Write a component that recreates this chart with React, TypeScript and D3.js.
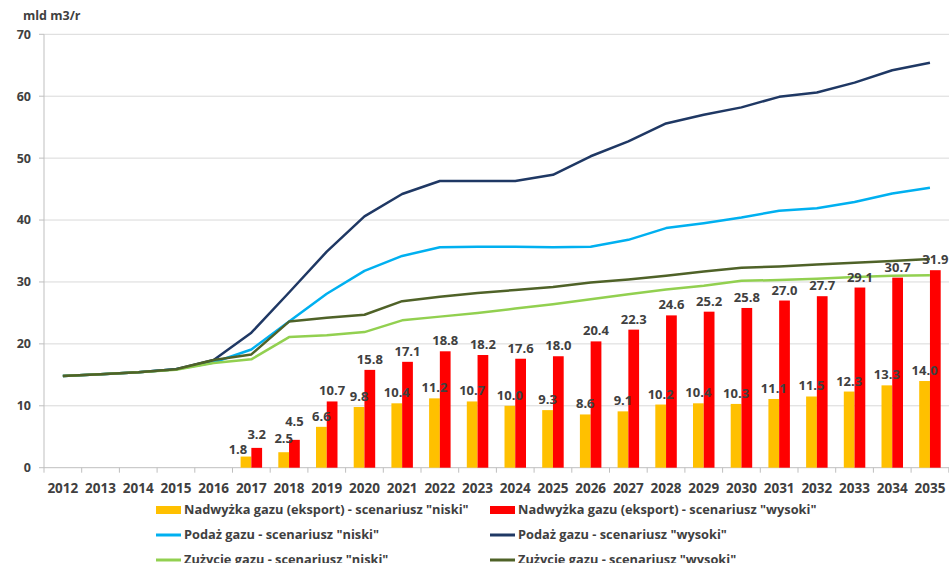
import React from "react";
import * as d3 from "d3";

const years = [2012, 2013, 2014, 2015, 2016, 2017, 2018, 2019, 2020, 2021, 2022, 2023, 2024, 2025, 2026, 2027, 2028, 2029, 2030, 2031, 2032, 2033, 2034, 2035];

// Nadwyżka gazu (eksport)
const nadwyzkaNiski: (number | null)[] = [null, null, null, null, null, 1.8, 2.5, 6.6, 9.8, 10.4, 11.2, 10.7, 10.0, 9.3, 8.6, 9.1, 10.2, 10.4, 10.3, 11.1, 11.5, 12.3, 13.3, 14.0];
const nadwyzkaWysoki: (number | null)[] = [null, null, null, null, null, 3.2, 4.5, 10.7, 15.8, 17.1, 18.8, 18.2, 17.6, 18.0, 20.4, 22.3, 24.6, 25.2, 25.8, 27.0, 27.7, 29.1, 30.7, 31.9];

// Podaż gazu
const podazNiski = [14.8, 15.1, 15.4, 15.9, 17.0, 19.1, 23.6, 28.1, 31.8, 34.2, 35.6, 35.7, 35.7, 35.6, 35.7, 36.8, 38.7, 39.5, 40.4, 41.5, 41.9, 42.9, 44.3, 45.2];
const podazWysoki = [14.8, 15.1, 15.4, 15.9, 17.4, 21.8, 28.3, 34.9, 40.6, 44.2, 46.3, 46.3, 46.3, 47.3, 50.3, 52.7, 55.6, 57.0, 58.2, 59.9, 60.6, 62.2, 64.2, 65.4];

// Zużycie gazu
const zuzycieNiski = [14.8, 15.1, 15.4, 15.8, 16.9, 17.5, 21.1, 21.4, 21.9, 23.8, 24.4, 25.0, 25.7, 26.4, 27.2, 28.0, 28.8, 29.4, 30.2, 30.3, 30.5, 30.8, 31.0, 31.1];
const zuzycieWysoki = [14.8, 15.1, 15.4, 15.9, 17.4, 18.3, 23.6, 24.2, 24.7, 26.9, 27.6, 28.2, 28.7, 29.2, 29.9, 30.4, 31.0, 31.7, 32.3, 32.5, 32.8, 33.1, 33.4, 33.7];

const yTicks = [0, 10, 20, 30, 40, 50, 60, 70];
const unitLabel = "mld m3/r";

const barSeries = [
  { name: 'Nadwyżka gazu (eksport) - scenariusz "niski"', values: nadwyzkaNiski, color: "#FFC000" },
  { name: 'Nadwyżka gazu (eksport) - scenariusz "wysoki"', values: nadwyzkaWysoki, color: "#FF0000" },
];

const lineSeries = [
  { name: 'Podaż gazu - scenariusz "niski"', values: podazNiski, color: "#00B0F0" },
  { name: 'Podaż gazu - scenariusz "wysoki"', values: podazWysoki, color: "#1F3864" },
  { name: 'Zużycie gazu - scenariusz "niski"', values: zuzycieNiski, color: "#92D050" },
  { name: 'Zużycie gazu - scenariusz "wysoki"', values: zuzycieWysoki, color: "#4F6228" },
];

const W = 949;
const H = 563;
const FONT = "'Open Sans', Lato, sans-serif";
const TEXT = "#404040";

// hand-placed labels for the crowded first two groups: [series, index] -> [dx, gap]
const labelNudges: Record<string, [number, number]> = {
  "0-5": [-8, 3],
  "1-5": [0, 9],
  "0-6": [0, 9],
  "1-6": [0, 14],
};

export default function App() {
  const x = d3.scaleBand<number>().domain(years).range([44, 44 + 37.7 * years.length]).padding(0);
  const y = d3.scaleLinear().domain([0, 70]).range([467.7, 34.3]);
  const barW = x.bandwidth() * 0.285;
  const cx = (yr: number) => (x(yr) as number) + x.bandwidth() / 2;

  const line = d3
    .line<number>()
    .x((_, i) => cx(years[i]))
    .y((d) => y(d));

  const legendRows = [
    [{ kind: "bar", s: barSeries[0] }, { kind: "bar", s: barSeries[1] }],
    [{ kind: "line", s: lineSeries[0] }, { kind: "line", s: lineSeries[1] }],
    [{ kind: "line", s: lineSeries[2] }, { kind: "line", s: lineSeries[3] }],
  ];
  const legendCols = [156, 490];
  const legendRowY = [510, 535, 560];

  return (
    <svg
      width={W}
      height={H}
      style={{ position: "absolute", left: 0, top: 0, background: "#fff" }}
      fontFamily={FONT}
    >
      <rect width={W} height={H} fill="#fff" />

      {/* grid */}
      {yTicks.map((t) => (
        <line key={t} x1={44} x2={W} y1={y(t)} y2={y(t)} stroke={t === 0 ? "#BFBFBF" : "#D9D9D9"} strokeWidth={1} />
      ))}
      <line x1={44} x2={44} y1={y(70)} y2={y(0)} stroke="#BFBFBF" strokeWidth={1} />
      {yTicks.map((t) => (
        <line key={"yt" + t} x1={39} x2={44} y1={y(t)} y2={y(t)} stroke="#BFBFBF" />
      ))}
      {years.concat([years[years.length - 1] + 1]).map((yr, i) => {
        const xx = 44 + i * x.step();
        return <line key={"xt" + yr} x1={xx} x2={xx} y1={y(0)} y2={y(0) + 5} stroke="#BFBFBF" />;
      })}

      {/* y tick labels */}
      {yTicks.map((t) => (
        <text key={"yl" + t} x={31} y={y(t)} dy="0.35em" textAnchor="end" fontSize={12.5} fontWeight={700} fill={TEXT}>
          {t}
        </text>
      ))}
      <text x={23} y={20} fontSize={12.5} fontWeight={700} fill={TEXT}>
        {unitLabel}
      </text>

      {/* x labels */}
      {years.map((yr) => (
        <text key={"xl" + yr} x={cx(yr)} y={493} textAnchor="middle" fontSize={13.5} fontWeight={700} fill={TEXT}>
          {yr}
        </text>
      ))}

      {/* bars */}
      {barSeries.map((s, si) =>
        s.values.map((v, i) =>
          v == null ? null : (
            <rect
              key={`b${si}-${i}`}
              x={cx(years[i]) + (si === 0 ? -barW : 0)}
              y={y(v)}
              width={barW}
              height={y(0) - y(v)}
              fill={s.color}
            />
          )
        )
      )}

      {/* lines */}
      {lineSeries.map((s) => (
        <path key={s.name} d={line(s.values) || ""} fill="none" stroke={s.color} strokeWidth={2.5} strokeLinejoin="round" />
      ))}

      {/* data labels */}
      {barSeries.map((s, si) =>
        s.values.map((v, i) => {
          if (v == null) return null;
          const [dx, gap] = labelNudges[`${si}-${i}`] || [0, 6];
          const lx = cx(years[i]) + (si === 0 ? -barW / 2 : barW / 2) + dx;
          return (
            <text
              key={`l${si}-${i}`}
              x={lx}
              y={y(v) - gap}
              textAnchor="middle"
              fontSize={13}
              fontWeight={700}
              fill={TEXT}
            >
              {v.toFixed(1)}
            </text>
          );
        })
      )}

      {/* legend */}
      {legendRows.map((row, ri) =>
        row.map((item, ci) => {
          const lx = legendCols[ci];
          const ly = legendRowY[ri];
          return (
            <g key={`lg${ri}-${ci}`}>
              {item.kind === "bar" ? (
                <rect x={lx} y={ly - 4} width={25} height={8} fill={item.s.color} />
              ) : (
                <line x1={lx} x2={lx + 25} y1={ly} y2={ly} stroke={item.s.color} strokeWidth={3} />
              )}
              <text x={lx + 28} y={ly} dy="0.35em" fontSize={12.8} fontWeight={700} fill={TEXT}>
                {item.s.name}
              </text>
            </g>
          );
        })
      )}
    </svg>
  );
}
